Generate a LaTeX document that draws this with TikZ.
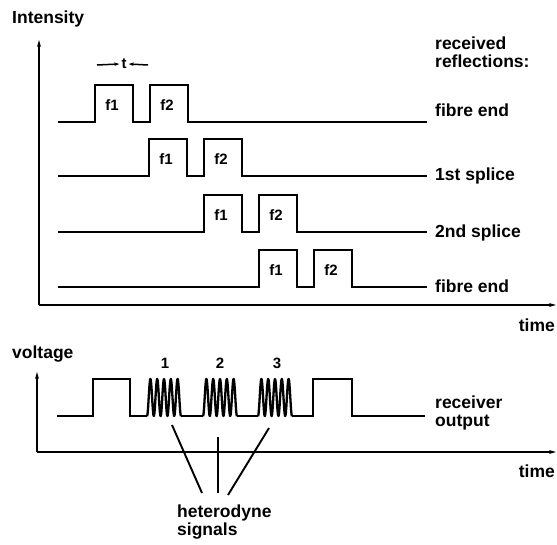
\documentclass[tikz,border=0pt]{standalone}
\usepackage{fontspec}
\setmainfont{Liberation Sans}
\usetikzlibrary{arrows.meta}
\begin{document}
\begin{tikzpicture}[x=1pt,y=-1pt,
  sig/.style={line width=1.9pt, line join=miter},
  axis/.style={line width=1.9pt,-{Stealth[length=7pt,width=4pt]}},
  lbl/.style={anchor=base west, inner sep=0pt, font=\bfseries\fontsize{17.5}{17.5}\selectfont},
  small/.style={inner sep=0pt, font=\bfseries\fontsize{15}{15}\selectfont},
  dim/.style={line width=1.5pt,-{Stealth[length=5pt,width=3.5pt]}},
  ptr/.style={line width=1.9pt}]
\useasboundingbox (0,0) rectangle (557,545);
% ---------- upper plot ----------
\coordinate (o1) at (39,305);
\coordinate (ytop1) at (39,40);
\coordinate (xend1) at (556,305);
\draw[axis] (o1) -- (ytop1);
\draw[axis] (o1) -- (xend1);
\node[lbl] (intensity) at (12,24) {Intensity};
\node[lbl,anchor=base east] (time1) at (555,331) {time};
\node[lbl,align=left,anchor=north west] (recv) at (435,37) {received\\reflections:};
\foreach \y/\x/\n in {122/95/1,176/149/2,232/204/3,287/259/4}{
  \draw[sig] (58,\y) -- (\x,\y) -- (\x,\y-37) -- (\x+38,\y-37) -- (\x+38,\y)
     -- (\x+55,\y) -- (\x+55,\y-37) -- (\x+93,\y-37) -- (\x+93,\y) -- (427,\y);
  \node[small] (fa\n) at (\x+17,\y-17) {f1};
  \node[small] (fb\n) at (\x+72,\y-17) {f2};
}
\node[lbl] (r1) at (435,117) {fibre end};
\node[lbl] (r2) at (435,181) {1st splice};
\node[lbl] (r3) at (435,238) {2nd splice};
\node[lbl] (r4) at (435,293) {fibre end};
% delay annotation
\node[small] (tlab) at (124,64) {t};
\coordinate (tl) at (97,65);
\coordinate (tr) at (148,65);
\draw[dim] (tl) -- ([xshift=-2pt]tlab.west);
\draw[dim] (tr) -- ([xshift=2pt]tlab.east);
% ---------- lower plot ----------
\coordinate (o2) at (37,452);
\coordinate (ytop2) at (37,372);
\coordinate (xend2) at (556,452);
\draw[axis] (o2) -- (ytop2);
\draw[axis] (o2) -- (xend2);
\node[lbl] (voltage) at (12,359) {voltage};
\node[lbl,anchor=base east] (time2) at (555,477) {time};
\draw[sig] (57,416) -- (93,416) -- (93,379) -- (130,379) -- (130,416) -- (147,416);
\draw[sig] (181,416) -- (203,416);
\draw[sig] (237,416) -- (258,416);
\draw[sig] (292,416) -- (313,416) -- (313,379) -- (352,379) -- (352,416) -- (425,416);
\foreach \a in {147,203,258}{
  \draw[line width=2.3pt,line join=round] plot[domain=0:1,samples=160,smooth,variable=\t]
     ({\a+34*\t},{416-18.5*(1-cos(5*360*\t))});
}
\node[small] (n1) at (165,363) {1};
\node[small] (n2) at (220,363) {2};
\node[small] (n3) at (277,363) {3};
\node[lbl,align=left,anchor=north west] (recout) at (435,396) {receiver\\output};
\node[lbl,align=left,anchor=north west] (het) at (177,505) {heterodyne\\signals};
\coordinate (b1) at (172,425);
\coordinate (b2) at (218,437);
\coordinate (b3) at (269,428);
\coordinate (h1) at (202,493);
\coordinate (h2) at (218,493);
\coordinate (h3) at (228,495);
\draw[ptr] (b1) -- (h1);
\draw[ptr] (b2) -- (h2);
\draw[ptr] (b3) -- (h3);
\end{tikzpicture}
\end{document}
